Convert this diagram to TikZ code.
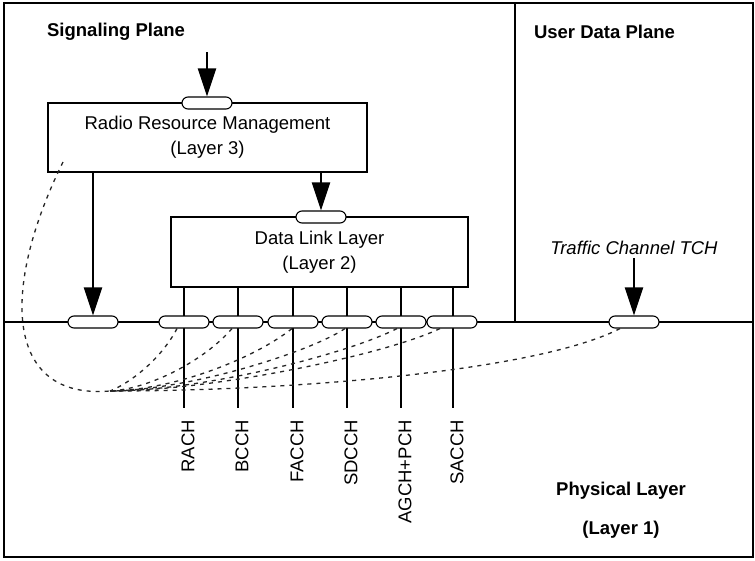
\documentclass[tikz,border=0pt]{standalone}
\usepackage{fontspec}
\setmainfont{Liberation Sans}
\usetikzlibrary{arrows.meta,shapes.misc}
\begin{document}
\begin{tikzpicture}[x=1pt,y=-1pt,
  every node/.style={font=\fontsize{18.5}{25}\selectfont},
  frame/.style={line width=2.2pt},
  layerbox/.style={draw,line width=2.2pt,fill=white,align=center,inner sep=0pt},
  sap/.style={draw,rounded rectangle,fill=white,line width=1.1pt,minimum width=50pt,minimum height=12pt,inner sep=0pt},
  bigarrow/.style={line width=2.2pt,-{Triangle[length=28pt,width=18pt]}},
  chline/.style={line width=1.8pt},
  chlabel/.style={rotate=90,anchor=east,inner sep=0pt},
  logical/.style={line width=1.3pt,dash pattern=on 4pt off 5pt,black!85},
  title/.style={font=\fontsize{18.5}{25}\selectfont\bfseries}
]
\useasboundingbox (0,0) rectangle (755,560);
\fill[white] (0,0) rectangle (755,560);

% frame and plane separators
\coordinate (ftl) at (4,3);
\coordinate (fbr) at (753,557);
\coordinate (hl) at (4,322);
\coordinate (hr) at (753,322);
\coordinate (vt) at (515,3);
\coordinate (vb) at (515,322);
\draw[frame] (ftl) rectangle (fbr);
\draw[frame] (hl) -- (hr);
\draw[frame] (vt) -- (vb);

% titles
\node[title] (sig) at (116,32) {Signaling Plane};
\node[title] (udp) at (604.5,32) {User Data Plane};
\node[title] (phys) at (621,491) {Physical Layer};
\node[title] (phys1) at (621,530) {(Layer 1)};

% layer boxes
\node[layerbox,minimum width=319pt,minimum height=69pt] (rrm) at (207.5,137.5) {Radio Resource Management\\(Layer 3)};
\node[layerbox,minimum width=297pt,minimum height=70pt] (dll) at (319.5,252) {Data Link Layer\\(Layer 2)};

% channel lines (drawn before the SAPs)
\foreach \n/\x in {1/184,2/238,3/293,4/347,5/401,6/453}{
  \coordinate (cb\n) at (\x,408);
  \draw[chline] (dll.south -| cb\n) -- (cb\n);
}

% service access points
\node[sap] (s3) at (207,103) {};
\node[sap] (s2) at (321,217) {};
\node[sap] (sl) at (93,322) {};
\node[sap] (c1) at (184,322) {};
\node[sap] (c2) at (238,322) {};
\node[sap] (c3) at (293,322) {};
\node[sap] (c4) at (347,322) {};
\node[sap] (c5) at (401,322) {};
\node[sap] (c6) at (452,322) {};
\node[sap] (tchs) at (634,322) {};

% channel labels
\node[chlabel] (l1) at (188,420) {RACH};
\node[chlabel] (l2) at (242,420) {BCCH};
\node[chlabel] (l3) at (297,420) {FACCH};
\node[chlabel] (l4) at (351,420) {SDCCH};
\node[chlabel] (l5) at (405,420) {AGCH+PCH};
\node[chlabel] (l6) at (457,420) {SACCH};

% arrows
\coordinate (topin) at (207,52);
\draw[bigarrow] (topin) -- (s3.north);
\draw[bigarrow] (rrm.south -| s2) -- (s2.north);
\draw[bigarrow] (rrm.south -| sl) -- (sl.north);
\node[font=\fontsize{18.5}{25}\selectfont\itshape] (tch) at (634,248) {Traffic Channel TCH};
\draw[bigarrow] (tch.south -| tchs) -- (tchs.north);

% logical mapping (dashed)
\coordinate (conv) at (110,391);
\coordinate (rrmfoot) at (63,162);
\draw[logical] (rrmfoot) .. controls (0,290) and (5,400) .. (conv);
\draw[logical] ([xshift=-7pt]c1.south) .. controls (160,361) and (128,384) .. (conv);
\draw[logical] ([xshift=-6pt]c2.south) .. controls (205,360) and (150,389) .. (conv);
\draw[logical] ([xshift=-1pt]c3.south) .. controls (255,358) and (175,390) .. (conv);
\draw[logical] ([xshift=-2pt]c4.south) .. controls (310,352) and (190,390) .. (conv);
\draw[logical] ([xshift=-4pt]c5.south) .. controls (345,355) and (200,391) .. (conv);
\draw[logical] ([xshift=-12pt]c6.south) .. controls (385,355) and (210,391) .. (conv);
\draw[logical] ([xshift=-14pt]tchs.south) .. controls (540,370) and (300,391) .. (conv);
\end{tikzpicture}
\end{document}
